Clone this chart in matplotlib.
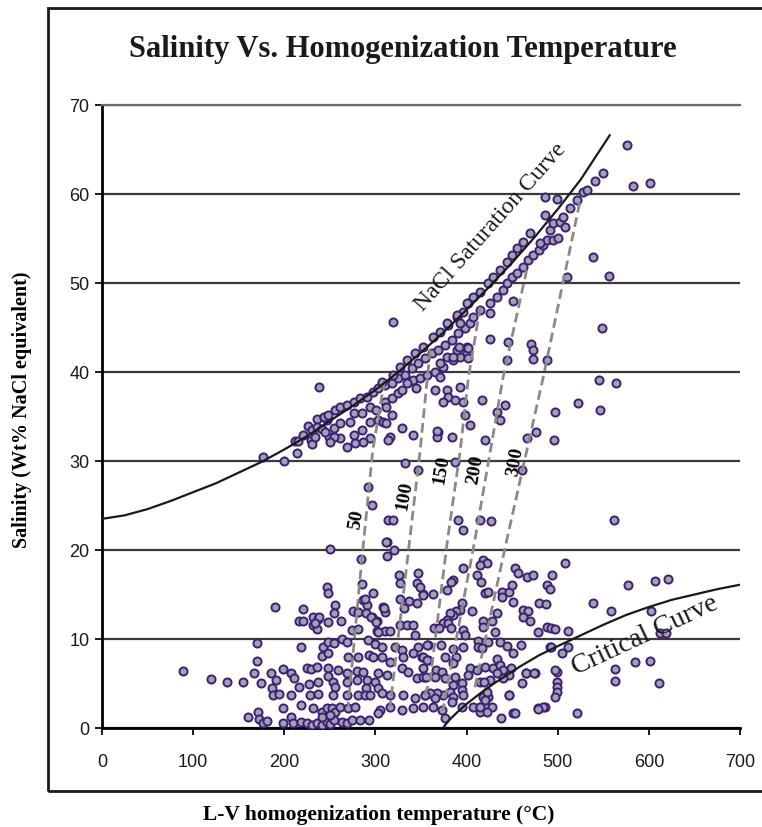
import numpy as np
import matplotlib
matplotlib.use('Agg')
import matplotlib.pyplot as plt
from matplotlib.patches import Rectangle

# Fluid inclusion data: (Th degC, salinity wt% NaCl eq.)
lower_cluster = [
    (250, 20.1), (313, 20.9), (313, 19.3), (284, 19.0), (247, 15.9), (248, 15.2), (256, 13.8),
    (254, 12.9), (220, 13.4), (190, 13.6), (216, 12.0), (221, 12.0), (232, 12.5), (237, 12.3),
    (232, 11.6), (236, 11.1), (248, 11.9), (262, 12.0), (279, 13.0), (286, 14.4), (291, 13.8),
    (297, 15.2), (308, 13.6), (310, 13.0), (296, 12.5), (302, 12.0), (274, 11.0), (281, 11.1),
    (302, 10.9), (310, 10.9), (316, 10.9), (343, 10.4), (170, 9.5), (218, 9.1), (242, 9.1),
    (248, 9.7), (254, 9.5), (263, 10.0), (269, 9.7), (292, 9.9), (300, 9.4), (307, 9.1),
    (321, 9.1), (329, 8.8), (347, 9.1), (358, 9.3), (170, 7.5), (241, 8.1), (248, 8.4),
    (270, 8.0), (281, 8.0), (293, 8.2), (297, 8.0), (307, 8.0), (316, 7.4), (330, 8.0),
    (341, 8.4), (351, 8.0), (358, 7.6), (89, 6.4), (120, 5.5), (137, 5.2), (155, 5.2),
    (167, 6.2), (174, 5.1), (185, 6.2), (198, 6.6), (191, 5.4), (207, 6.2), (211, 5.6),
    (225, 6.7), (229, 6.6), (236, 6.9), (248, 6.7), (259, 6.5), (269, 6.2), (280, 6.4),
    (286, 6.3), (303, 6.2), (313, 6.0), (329, 6.7), (336, 6.3), (346, 5.6), (354, 5.7),
    (216, 4.6), (227, 4.9), (237, 5.2), (248, 5.8), (253, 5.2), (256, 4.6), (269, 5.2),
    (280, 5.4), (291, 5.4), (300, 5.2), (290, 4.5), (303, 4.5), (186, 4.5), (188, 3.7),
    (194, 3.8), (207, 3.7), (228, 3.7), (237, 3.8), (253, 3.7), (269, 3.7), (281, 3.7),
    (289, 3.7), (294, 3.7), (307, 3.9), (316, 3.7), (330, 3.7), (343, 3.4), (354, 3.7),
    (199, 2.2), (218, 2.6), (232, 2.2), (241, 1.8), (247, 2.2), (252, 2.2), (256, 1.8),
    (261, 2.4), (270, 2.2), (278, 2.4), (305, 2.0), (303, 1.7), (316, 2.4), (329, 2.0),
    (341, 2.2), (160, 1.2), (171, 1.8), (172, 1.0), (177, 0.6), (181, 0.8), (199, 0.6),
    (207, 1.2), (209, 0.6), (218, 0.7), (225, 0.6), (230, 0.3), (236, 0.6), (241, 0.3),
    (247, 0.7), (250, 0.4), (254, 0.9), (263, 0.7), (269, 0.6), (274, 0.9), (283, 0.9),
    (293, 0.9), (241, 1.2), (250, 1.5),
    (347, 17.4), (346, 16.3), (326, 17.2), (327, 16.3), (285, 16.2), (289, 14.5), (275, 13.1),
    (281, 13.0), (290, 12.9), (238, 12.5), (234, 11.8), (295, 12.5), (301, 11.9), (309, 13.5),
    (327, 14.5), (331, 13.5), (337, 14.3), (346, 14.0), (352, 15.1), (327, 11.6), (335, 11.6),
    (341, 11.6), (303, 10.8),
]

lower_right = [
    (396, 18.0), (411, 17.2), (416, 16.4), (418, 18.9), (453, 18.0), (456, 17.4), (466, 17.0),
    (473, 17.2), (494, 17.2), (385, 16.6), (383, 16.4), (379, 15.5), (349, 15.8), (352, 14.9),
    (363, 15.1), (420, 15.2), (424, 15.3), (439, 15.3), (446, 15.3), (439, 14.7), (450, 16.1),
    (451, 14.2), (488, 16.1), (492, 15.6), (395, 14.0), (393, 13.3), (388, 13.1), (385, 12.7),
    (382, 12.9), (379, 12.1), (374, 11.8), (380, 11.8), (383, 11.2), (406, 13.1), (433, 12.9),
    (428, 12.0), (418, 12.0), (418, 11.4), (431, 10.8), (462, 13.3), (467, 13.1), (462, 12.5),
    (470, 12.0), (479, 14.0), (487, 13.9), (478, 10.8), (488, 11.4), (493, 11.2), (497, 11.1),
    (364, 11.2), (370, 11.2), (396, 11.0), (398, 10.4), (357, 9.3), (372, 9.3), (385, 8.9),
    (396, 9.1), (413, 9.8), (413, 9.1), (417, 9.0), (424, 9.7), (437, 9.7), (444, 9.2),
    (451, 8.4), (460, 9.3), (492, 9.1), (352, 8.0), (357, 7.6), (376, 8.0), (388, 8.0),
    (385, 7.3), (352, 6.7), (366, 6.5), (373, 6.3), (352, 5.7), (355, 5.7), (365, 5.7),
    (376, 5.6), (387, 5.7), (404, 6.7), (402, 6.0), (411, 6.5), (420, 6.9), (429, 6.7),
    (433, 7.8), (437, 7.1), (440, 6.5), (433, 6.2), (449, 6.7), (446, 6.0), (440, 5.6),
    (426, 5.4), (415, 5.2), (419, 5.2), (465, 6.2), (475, 6.2), (461, 5.1), (499, 6.3),
    (499, 5.2), (499, 4.6), (499, 4.0), (497, 3.5), (395, 5.1), (385, 4.8), (382, 4.0),
    (395, 4.3), (396, 3.7), (385, 3.5), (374, 3.7), (368, 3.9), (360, 3.9), (354, 3.7),
    (365, 3.4), (352, 2.4), (363, 2.4), (373, 2.0), (384, 2.9), (376, 1.1), (395, 2.4),
    (407, 2.4), (415, 2.4), (422, 2.4), (428, 2.4), (415, 1.8), (422, 1.8), (418, 3.5),
    (424, 3.5), (422, 4.0), (446, 3.7), (438, 1.1), (451, 1.7), (478, 2.2), (486, 2.4),
    (508, 18.5), (577, 16.1), (607, 16.5), (621, 16.7), (539, 14.0), (558, 13.1), (602, 13.1),
    (511, 10.9), (493, 9.1), (511, 9.1), (505, 8.4), (612, 10.7), (619, 10.7), (585, 7.4),
    (601, 7.5), (563, 6.6), (563, 5.3), (611, 5.1), (521, 1.7), (484, 2.4), (478, 2.1),
    (453, 1.7), (447, 3.7), (465, 6.2), (474, 6.2), (497, 6.5), (415, 2.4), (420, 3.1),
]

saturation_band = [
    (238, 38.3), (177, 30.5), (200, 30.0), (214, 30.9), (212, 32.2), (215, 32.2), (220, 32.9),
    (226, 33.9), (230, 33.5), (236, 34.7), (236, 33.8), (241, 33.6), (244, 34.9), (247, 34.6),
    (229, 32.4), (230, 31.9), (234, 32.7), (249, 32.7),
    (243, 35.0), (248, 35.2), (256, 35.7), (261, 36.1), (269, 36.3), (276, 36.6), (283, 37.1),
    (291, 37.2), (297, 37.8), (303, 38.2), (311, 38.5), (318, 38.8), (325, 39.3), (332, 39.7),
    (340, 40.4), (347, 41.0), (354, 41.6), (362, 42.1), (369, 42.5), (376, 43.0), (384, 43.6),
    (391, 44.4), (398, 44.9), (404, 45.5),
    (307, 38.9), (319, 39.7), (327, 40.6), (335, 41.4), (343, 42.1), (352, 42.8), (363, 43.9),
    (371, 44.5), (380, 45.3), (389, 46.2), (396, 46.8), (402, 47.8),
    (245, 33.3), (254, 33.7), (261, 34.3), (272, 34.4), (276, 35.4), (285, 35.4), (294, 36.1),
    (301, 35.7), (311, 36.6), (318, 37.1), (325, 37.6), (329, 38.0), (336, 38.9), (341, 39.1),
    (349, 39.3), (357, 39.7), (365, 40.0), (374, 40.6), (378, 41.7), (385, 41.3), (393, 41.7),
    (400, 42.1),
    (379, 45.5), (389, 46.4), (400, 47.8), (407, 48.4), (415, 49.0), (424, 50.0), (429, 50.7),
    (437, 51.5), (444, 52.4), (450, 53.2), (455, 53.9), (462, 54.6), (470, 55.6),
    (393, 45.5), (407, 46.2), (415, 47.0), (426, 47.8), (433, 48.4), (440, 49.2), (444, 50.0),
    (450, 50.7), (455, 51.1), (462, 51.8), (467, 52.6), (473, 53.2), (479, 53.7), (484, 54.3),
    (488, 54.8), (495, 54.8), (500, 55.1), (481, 54.5), (492, 56.0), (495, 56.7), (503, 56.9),
    (506, 57.4), (508, 56.3), (513, 58.4), (521, 59.3), (528, 60.2), (532, 60.5), (541, 61.5),
    (550, 62.4), (486, 59.7), (499, 59.4), (486, 57.6),
]

scattered_mid = [
    (319, 45.6), (276, 32.9), (285, 33.5), (294, 34.4), (303, 34.6), (312, 36.1), (308, 34.4),
    (318, 35.2), (312, 34.3), (316, 32.7), (294, 32.6), (286, 32.1), (277, 32.0), (269, 31.6),
    (261, 32.6), (254, 32.7), (250, 32.1), (329, 33.7), (335, 38.8), (345, 38.2), (365, 38.0),
    (378, 38.0), (380, 37.2), (371, 39.4), (374, 36.6), (393, 38.3), (396, 36.6), (389, 42.5),
    (400, 42.8), (371, 41.0), (369, 33.3), (368, 32.7), (384, 32.7),
    (385, 41.7), (392, 42.8), (402, 42.7), (402, 41.6), (426, 46.6), (426, 43.7), (445, 43.4),
    (444, 41.3), (451, 48.0), (471, 43.1), (473, 42.5), (473, 41.5), (488, 41.3), (510, 50.7),
    (539, 52.9), (549, 45.0), (556, 50.8), (545, 39.1),
    (314, 32.4), (341, 32.9), (332, 29.8), (347, 29.0), (314, 23.4), (319, 23.4), (312, 20.9),
    (320, 20.0), (292, 27.1), (296, 25.1), (368, 33.4), (387, 36.8), (398, 35.2), (404, 34.0),
    (387, 29.9), (391, 23.4), (396, 22.2), (417, 36.8), (433, 35.5), (420, 32.4), (415, 23.4),
    (427, 23.3), (422, 18.5), (415, 18.3), (442, 36.3), (437, 34.6), (466, 32.6), (461, 29.0),
    (476, 33.3),
    (576, 65.5), (583, 60.9), (601, 61.2), (564, 38.8), (546, 35.7), (522, 36.5), (497, 35.5),
    (496, 32.4), (562, 23.4),
]

# NaCl saturation (halite) curve and critical curve
sat_t = [0, 25, 50, 75, 100, 125, 150, 175, 200, 225, 250, 275, 300, 325, 350, 375, 400,
         425, 450, 475, 500, 525, 557]
sat_s = [23.5, 23.9, 24.6, 25.5, 26.5, 27.5, 28.7, 29.9, 31.3, 32.8, 34.5, 36.2, 38.0,
         40.0, 42.2, 44.5, 47.0, 49.6, 52.3, 55.2, 58.3, 61.6, 66.6]
crit_t = [374, 380, 390, 400, 415, 430, 445, 460, 480, 500, 525, 550, 575, 600, 625, 650, 675, 700]
crit_s = [0.0, 0.8, 1.8, 2.7, 3.9, 5.0, 6.0, 7.0, 8.2, 9.2, 10.4, 11.6, 12.7, 13.6, 14.4, 15.0, 15.6, 16.1]

# isochores (dashed) labelled by pressure
iso_labels = ['50', '100', '150', '200', '300']
iso_t = [
    [310, 297, 285, 270],
    [360, 349, 335, 316],
    [415, 402, 393, 379, 360, 352],
    [466, 440, 409, 374],
    [524, 484, 444, 409],
]
iso_s = [
    [39.1, 31.2, 18.9, 2.4],
    [42.5, 31.2, 18.9, 2.4],
    [47.3, 39.4, 31.2, 21.1, 5.4, 3.1],
    [51.5, 39.4, 21.1, 2.0],
    [59.0, 39.4, 21.1, 4.5],
]
iso_label_pos = [(279, 23.4), (332, 26.1), (372, 29.0), (409, 29.0), (453, 29.9)]

fig = plt.figure(figsize=(7.62, 8.27), dpi=100)
ax = fig.add_axes([0.1339, 0.1197, 0.8373, 0.7533])

serif = 'Liberation Serif'
sans = 'Liberation Sans'

# outer chart border
fig.patches.append(Rectangle((0.063, 0.0435), 0.96, 0.947, transform=fig.transFigure,
                             fill=False, lw=2.0, edgecolor='#1a1a1a'))

for grp in [lower_cluster, lower_right, saturation_band, scattered_mid]:
    arr = np.array(grp)
    ax.scatter(arr[:, 0], arr[:, 1], s=34, facecolor='#a2a2aa', edgecolor='#3c1f7a',
               linewidths=1.4, zorder=3)

ax.plot(sat_t, sat_s, color='#1a1a1a', lw=1.6, zorder=5)
ax.plot(crit_t, crit_s, color='#1a1a1a', lw=1.6, zorder=5)

for t, s in zip(iso_t, iso_s):
    ax.plot(t, s, color='#8a8a8a', lw=2.0, ls=(0, (3.5, 1.8)), zorder=4)

for lab, (t, s) in zip(iso_labels, iso_label_pos):
    ax.text(t, s, lab, rotation=80, fontsize=14, fontweight='bold', family=serif,
            ha='center', va='center', zorder=6)

ax.text(426, 56.3, 'NaCl Saturation Curve', rotation=48.5, fontsize=17, family=serif,
        ha='center', va='center', color='#1a1a1a', zorder=6)
ax.text(596, 10.4, 'Critical Curve', rotation=25, fontsize=20, family=serif,
        ha='center', va='center', color='#1a1a1a', zorder=6)

ax.set_xlim(0, 700)
ax.set_ylim(0, 70)
ax.set_xticks(np.arange(0, 701, 100))
ax.set_yticks(np.arange(0, 71, 10))
ax.yaxis.grid(True, color='#3a3a3a', lw=1.6)
ax.set_axisbelow(True)
ax.tick_params(axis='both', direction='out', length=5, width=1.4, labelsize=13,
               colors='#1a1a1a', pad=4)
ax.tick_params(axis='x', pad=14)
for lab in ax.get_xticklabels() + ax.get_yticklabels():
    lab.set_family(sans)
ax.spines['right'].set_visible(False)
ax.spines['top'].set_color('#6a6a6a')
ax.spines['top'].set_linewidth(1.6)
ax.spines['left'].set_linewidth(2.0)
ax.spines['bottom'].set_linewidth(2.0)

fig.text(0.529, 0.94, 'Salinity Vs. Homogenization Temperature', fontsize=22,
         fontweight='bold', family=serif, ha='center', va='center', color='#1a1a1a')
fig.text(0.029, 0.505, 'Salinity (Wt% NaCl equivalent)', rotation=90, fontsize=14.5,
         fontweight='bold', family=serif, ha='center', va='center')
fig.text(0.497, 0.0145, 'L-V homogenization temperature (\u00b0C)', fontsize=15.5,
         fontweight='bold', family=serif, ha='center', va='center')

fig.savefig('out.png', dpi=100)
